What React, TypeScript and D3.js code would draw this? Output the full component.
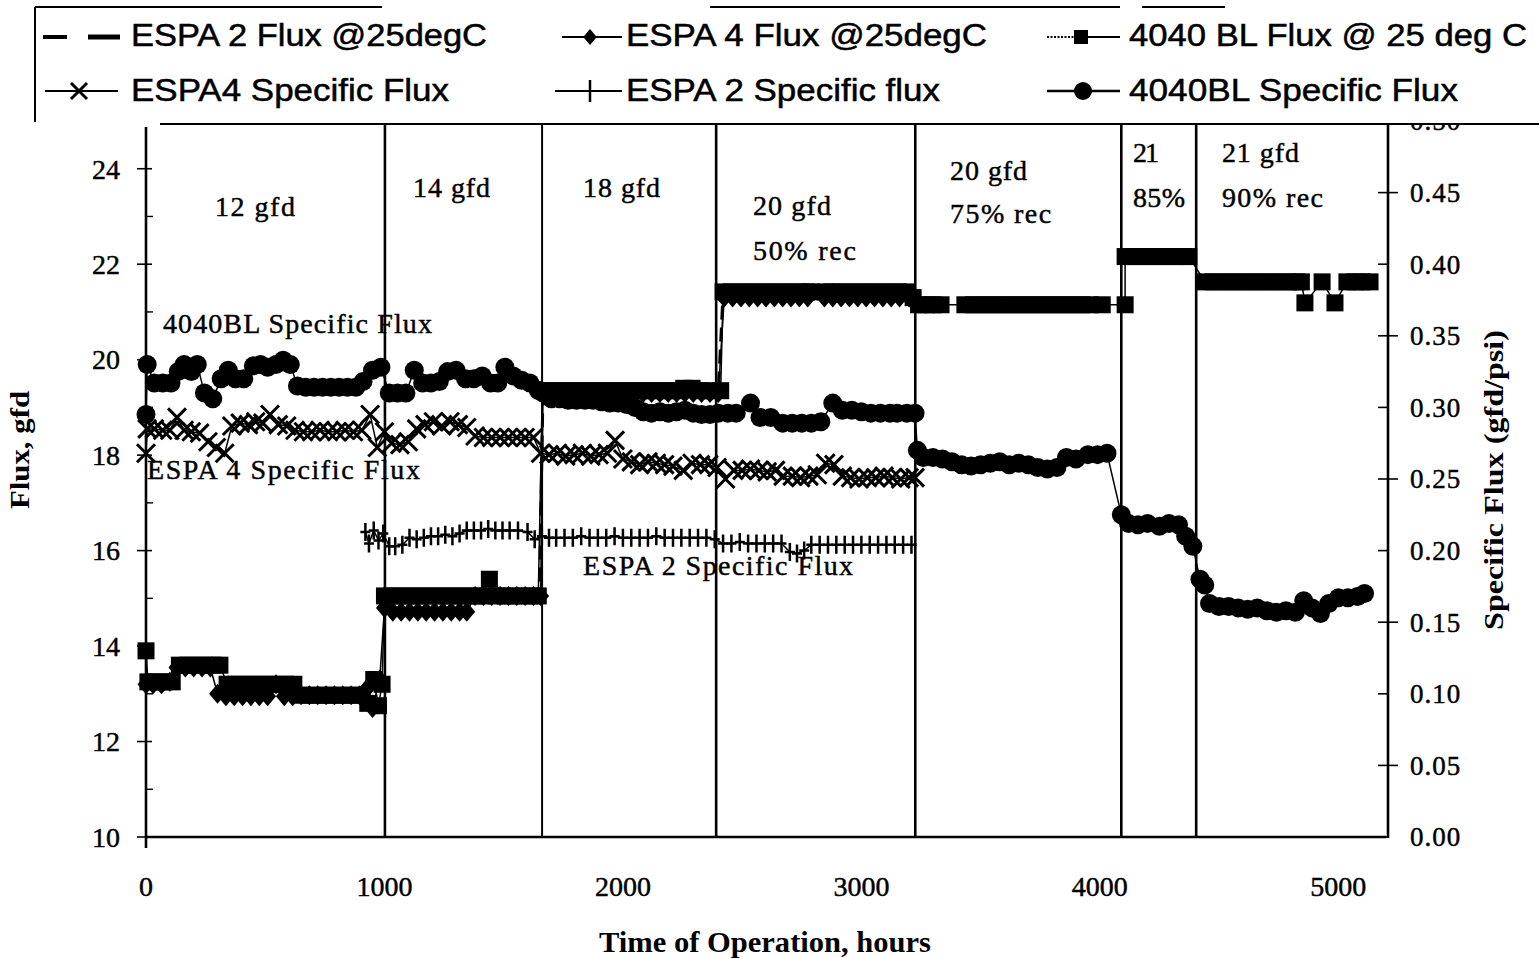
import React from "react";
import * as d3 from "d3";

type Pt = [number, number];

// ---------------- data ----------------
const timeTicks = [0, 1000, 2000, 3000, 4000, 5000];
const fluxTicks = [10, 12, 14, 16, 18, 20, 22, 24];
const fluxMinorTicks = [11, 13, 15, 17, 19, 21, 23];
const specTicks = [0, 0.05, 0.1, 0.15, 0.2, 0.25, 0.3, 0.35, 0.4, 0.45, 0.5];
const phaseBoundaries = [1002, 1661, 2391, 3226, 4090, 4404];

// 4040 BL Flux @ 25 deg C (gfd, left axis)
const bl4040Flux: Pt[] = [
  [0, 13.9], [8, 13.25], [40, 13.25], [75, 13.25], [110, 13.25], [140, 13.6], [175, 13.6], [210, 13.6], [245, 13.6],
  [280, 13.6], [310, 13.6], [340, 13.2], [375, 13.2], [410, 13.2], [445, 13.2], [480, 13.2], [515, 13.2], [550, 13.2],
  [585, 13.2], [620, 13.2], [655, 12.97], [690, 12.97], [725, 12.97], [760, 12.97], [795, 12.97], [830, 12.97],
  [865, 12.97], [900, 12.97], [930, 12.8], [955, 13.3], [975, 12.75], [990, 13.2], [1000, 15.05], [1030, 15.05],
  [1065, 15.05], [1100, 15.05], [1135, 15.05], [1170, 15.05], [1205, 15.05], [1240, 15.05], [1275, 15.05],
  [1310, 15.05], [1345, 15.05], [1380, 15.05], [1410, 15.05], [1440, 15.4], [1470, 15.05], [1505, 15.05],
  [1540, 15.05], [1575, 15.05], [1610, 15.05], [1645, 15.05], [1662, 19.35], [1695, 19.35], [1730, 19.35],
  [1765, 19.35], [1800, 19.35], [1835, 19.35], [1870, 19.35], [1905, 19.35], [1940, 19.35], [1975, 19.35],
  [2010, 19.35], [2045, 19.35], [2080, 19.35], [2115, 19.35], [2150, 19.35], [2185, 19.35], [2220, 19.35],
  [2255, 19.4], [2290, 19.4], [2325, 19.35], [2360, 19.35], [2410, 19.35], [2420, 21.42], [2455, 21.42],
  [2490, 21.42], [2525, 21.42], [2560, 21.42], [2595, 21.42], [2630, 21.42], [2665, 21.42], [2700, 21.42],
  [2735, 21.42], [2770, 21.42], [2790, 21.42], [2850, 21.42], [2875, 21.42], [2910, 21.42], [2945, 21.42],
  [2980, 21.42], [3015, 21.42], [3050, 21.42], [3085, 21.42], [3120, 21.42], [3155, 21.42], [3190, 21.42],
  [3217, 21.3], [3240, 21.15], [3270, 21.15], [3300, 21.15], [3334, 21.15], [3434, 21.15], [3470, 21.15],
  [3505, 21.15], [3540, 21.15], [3575, 21.15], [3610, 21.15], [3645, 21.15], [3680, 21.15], [3715, 21.15],
  [3750, 21.15], [3785, 21.15], [3820, 21.15], [3855, 21.15], [3890, 21.15], [3925, 21.15], [3960, 21.15],
  [4010, 21.15], [4106, 21.15], [4106, 22.16], [4140, 22.16], [4175, 22.16], [4210, 22.16], [4245, 22.16],
  [4280, 22.16], [4315, 22.16], [4350, 22.16], [4373, 22.16], [4441, 21.63], [4475, 21.63], [4510, 21.63],
  [4545, 21.63], [4580, 21.63], [4615, 21.63], [4650, 21.63], [4685, 21.63], [4720, 21.63], [4755, 21.63],
  [4790, 21.63], [4825, 21.63], [4845, 21.63], [4860, 21.19], [4932, 21.63], [4986, 21.19], [5036, 21.63],
  [5070, 21.63], [5100, 21.63], [5133, 21.63],
];

// ESPA 4 Flux @25degC (gfd, left axis)
const espa4Flux: Pt[] = [
  [0, 13.2], [30, 13.2], [65, 13.2], [100, 13.25], [130, 13.55], [165, 13.55], [200, 13.55], [235, 13.55],
  [270, 13.55], [300, 13.0], [335, 12.95], [370, 12.95], [405, 12.95], [440, 12.95], [475, 12.95], [510, 12.95],
  [545, 13.2], [580, 12.95], [615, 12.95], [650, 12.97], [685, 12.97], [720, 12.97], [755, 12.97], [790, 12.97],
  [825, 12.97], [860, 12.97], [895, 12.97], [925, 13.1], [950, 12.7], [980, 13.3], [1000, 14.8], [1035, 14.72],
  [1070, 14.72], [1105, 14.72], [1140, 14.72], [1175, 14.72], [1210, 14.72], [1245, 14.72], [1280, 14.72],
  [1315, 14.72], [1345, 14.72], [1380, 15.05], [1415, 15.05], [1450, 15.05], [1485, 15.05], [1520, 15.05],
  [1555, 15.05], [1590, 15.05], [1625, 15.05], [1655, 15.05], [1665, 19.3], [1700, 19.3], [1735, 19.3],
  [1770, 19.3], [1805, 19.3], [1840, 19.3], [1875, 19.3], [1910, 19.3], [1945, 19.3], [1980, 19.3],
  [2015, 19.3], [2050, 19.3], [2085, 19.3], [2120, 19.3], [2155, 19.3], [2190, 19.3], [2225, 19.3],
  [2260, 19.3], [2295, 19.3], [2330, 19.3], [2365, 19.3], [2400, 19.3], [2425, 21.3], [2460, 21.3],
  [2495, 21.3], [2530, 21.3], [2565, 21.3], [2600, 21.3], [2635, 21.3], [2670, 21.3], [2705, 21.3],
  [2740, 21.3], [2775, 21.3], [2845, 21.3], [2880, 21.3], [2915, 21.3], [2950, 21.3], [2985, 21.3],
  [3020, 21.3], [3055, 21.3], [3090, 21.3], [3125, 21.3], [3160, 21.3], [3200, 21.3],
];

// ESPA 2 Flux @25degC (gfd, left axis)
const espa2Flux: Pt[] = [
  [975, 15.0], [1050, 15.05], [1150, 15.05], [1250, 15.0], [1350, 15.05], [1450, 15.05], [1550, 15.0],
  [1650, 15.05], [1665, 19.4], [1800, 19.4], [1950, 19.35], [2100, 19.4], [2250, 19.35], [2400, 19.35],
  [2420, 21.4], [2600, 21.4], [2800, 21.4], [3000, 21.4], [3200, 21.4],
];

// 4040BL Specific Flux (gfd/psi, right axis)
const bl4040Spec: Pt[] = [
  [0, 0.295], [5, 0.33], [35, 0.317], [70, 0.317], [105, 0.317], [135, 0.325], [160, 0.33], [190, 0.325],
  [215, 0.33], [245, 0.31], [280, 0.306], [315, 0.32], [345, 0.326], [375, 0.32], [410, 0.32], [450, 0.329],
  [480, 0.33], [510, 0.328], [545, 0.33], [575, 0.333], [605, 0.33], [635, 0.315], [670, 0.314], [705, 0.314],
  [740, 0.314], [775, 0.314], [810, 0.314], [845, 0.314], [880, 0.314], [910, 0.318], [950, 0.326], [985, 0.328],
  [1020, 0.31], [1055, 0.31], [1090, 0.31], [1125, 0.326], [1160, 0.317], [1195, 0.317], [1230, 0.318],
  [1265, 0.325], [1300, 0.326], [1340, 0.32], [1375, 0.32], [1410, 0.322], [1445, 0.317], [1475, 0.317],
  [1505, 0.328], [1540, 0.322], [1575, 0.319], [1610, 0.317], [1645, 0.312], [1665, 0.31], [1700, 0.306],
  [1735, 0.306], [1770, 0.305], [1805, 0.305], [1840, 0.305], [1875, 0.305], [1910, 0.304], [1945, 0.303],
  [1980, 0.303], [2015, 0.302], [2050, 0.3], [2085, 0.297], [2120, 0.296], [2155, 0.297], [2190, 0.296],
  [2225, 0.297], [2260, 0.298], [2295, 0.296], [2330, 0.295], [2365, 0.295], [2400, 0.296], [2440, 0.296],
  [2475, 0.296], [2535, 0.303], [2575, 0.293], [2620, 0.293], [2670, 0.289], [2710, 0.289], [2750, 0.289],
  [2790, 0.289], [2830, 0.29], [2880, 0.303], [2920, 0.298], [2960, 0.298], [3000, 0.297], [3040, 0.296],
  [3080, 0.296], [3120, 0.296], [3150, 0.296], [3190, 0.296], [3225, 0.296], [3235, 0.27], [3260, 0.265],
  [3300, 0.265], [3340, 0.264], [3380, 0.262], [3420, 0.26], [3460, 0.259], [3500, 0.26], [3540, 0.261],
  [3580, 0.262], [3620, 0.26], [3660, 0.261], [3700, 0.26], [3740, 0.258], [3780, 0.257], [3820, 0.258],
  [3860, 0.265], [3900, 0.264], [3950, 0.267], [3990, 0.267], [4030, 0.268], [4090, 0.225], [4120, 0.219],
  [4160, 0.218], [4200, 0.219], [4250, 0.217], [4290, 0.219], [4330, 0.218], [4360, 0.21], [4390, 0.203],
  [4420, 0.18], [4440, 0.176], [4460, 0.163], [4500, 0.161], [4540, 0.161], [4580, 0.16], [4620, 0.159],
  [4660, 0.16], [4700, 0.158], [4740, 0.157], [4780, 0.158], [4820, 0.157], [4855, 0.165], [4890, 0.16],
  [4925, 0.156], [4960, 0.163], [5000, 0.167], [5040, 0.167], [5080, 0.168], [5110, 0.17],
];

// ESPA4 Specific Flux (gfd/psi, right axis)
const espa4Spec: Pt[] = [
  [0, 0.268], [5, 0.285], [35, 0.285], [70, 0.284], [100, 0.284], [130, 0.293], [160, 0.284], [190, 0.283],
  [225, 0.282], [260, 0.276], [295, 0.272], [330, 0.268], [360, 0.287], [395, 0.289], [430, 0.288], [460, 0.29],
  [490, 0.289], [520, 0.295], [555, 0.288], [590, 0.287], [625, 0.284], [660, 0.283], [695, 0.283], [730, 0.284],
  [765, 0.283], [800, 0.283], [835, 0.284], [870, 0.283], [905, 0.284], [940, 0.295], [970, 0.272], [1000, 0.283],
  [1030, 0.275], [1065, 0.274], [1100, 0.276], [1135, 0.285], [1170, 0.288], [1205, 0.29], [1240, 0.287],
  [1275, 0.29], [1310, 0.288], [1345, 0.286], [1380, 0.28], [1415, 0.279], [1450, 0.279], [1485, 0.279],
  [1520, 0.279], [1555, 0.279], [1590, 0.279], [1625, 0.279], [1655, 0.268], [1690, 0.267], [1725, 0.268],
  [1760, 0.266], [1795, 0.267], [1830, 0.268], [1865, 0.266], [1900, 0.267], [1935, 0.268], [1967, 0.277],
  [2000, 0.264], [2035, 0.262], [2070, 0.26], [2105, 0.262], [2140, 0.261], [2175, 0.26], [2210, 0.259],
  [2253, 0.256], [2290, 0.261], [2325, 0.26], [2360, 0.26], [2395, 0.258], [2430, 0.25], [2465, 0.256],
  [2500, 0.256], [2535, 0.257], [2570, 0.256], [2605, 0.255], [2640, 0.256], [2672, 0.252], [2710, 0.252],
  [2745, 0.251], [2780, 0.252], [2815, 0.253], [2850, 0.261], [2885, 0.26], [2920, 0.252], [2955, 0.251],
  [2990, 0.25], [3025, 0.251], [3060, 0.251], [3095, 0.252], [3130, 0.251], [3165, 0.25], [3200, 0.251],
  [3225, 0.251],
];

// ESPA 2 Specific flux (gfd/psi, right axis)
const espa2Spec: Pt[] = [
  [920, 0.213], [935, 0.205], [955, 0.214], [975, 0.207], [995, 0.212], [1020, 0.203], [1045, 0.203],
  [1075, 0.204], [1105, 0.209], [1135, 0.208], [1165, 0.209], [1195, 0.21], [1225, 0.21], [1255, 0.211],
  [1285, 0.21], [1315, 0.212], [1345, 0.214], [1375, 0.214], [1405, 0.214], [1435, 0.215], [1465, 0.214],
  [1495, 0.214], [1525, 0.214], [1560, 0.214], [1600, 0.213], [1630, 0.208], [1660, 0.21], [1690, 0.209],
  [1720, 0.209], [1755, 0.209], [1790, 0.209], [1825, 0.21], [1860, 0.209], [1895, 0.209], [1930, 0.209],
  [1965, 0.21], [2000, 0.209], [2035, 0.209], [2070, 0.209], [2105, 0.209], [2140, 0.21], [2175, 0.209],
  [2210, 0.209], [2245, 0.209], [2280, 0.209], [2315, 0.209], [2350, 0.209], [2385, 0.208], [2420, 0.205],
  [2455, 0.205], [2490, 0.206], [2525, 0.205], [2560, 0.205], [2595, 0.205], [2630, 0.205], [2665, 0.205],
  [2700, 0.199], [2730, 0.198], [2760, 0.2], [2790, 0.204], [2825, 0.204], [2860, 0.204], [2895, 0.204],
  [2930, 0.204], [2965, 0.204], [3000, 0.204], [3035, 0.204], [3070, 0.204], [3105, 0.204], [3140, 0.204],
  [3175, 0.204], [3210, 0.204],
];

const phaseLabelText = ["12 gfd", "14 gfd", "18 gfd", "20 gfd", "50% rec", "20 gfd", "75% rec", "21", "85%", "21 gfd", "90% rec"];
const seriesLabelText = ["4040BL Specific Flux", "ESPA 4 Specific Flux", "ESPA 2 Specific Flux"];
const legendText = [
  "ESPA 2 Flux @25degC", "ESPA 4 Flux @25degC", "4040 BL Flux @ 25 deg C",
  "ESPA4 Specific Flux", "ESPA 2 Specific flux", "4040BL Specific Flux",
];

// ---------------- layout (positions in data units: hours / gfd) ----------------
const phaseLabelPos = [
  { t: 289, f: 23.0, w: 80 }, { t: 1120, f: 23.41, w: 77 }, { t: 1833, f: 23.41, w: 77 },
  { t: 2545, f: 23.03, w: 78 }, { t: 2545, f: 22.09, w: 103 }, { t: 3372, f: 23.76, w: 77 },
  { t: 3372, f: 22.86, w: 101 }, { t: 4139, f: 24.14, w: 26 }, { t: 4139, f: 23.2, w: 52 },
  { t: 4512, f: 24.14, w: 77 }, { t: 4512, f: 23.2, w: 101 },
];
const seriesLabelPos = [
  { t: 71, f: 20.56, w: 269 }, { t: 4, f: 17.5, w: 273 }, { t: 1833, f: 15.49, w: 270 },
];

const SERIF = "'Liberation Serif', 'Times New Roman', serif";
const SANS = "'Liberation Sans', Arial, sans-serif";

const Square = ({ cx, cy, s = 17 }: { cx: number; cy: number; s?: number }) => (
  <rect x={cx - s / 2} y={cy - s / 2} width={s} height={s} fill="#000" />
);
const Circle = ({ cx, cy, r = 9 }: { cx: number; cy: number; r?: number }) => <circle cx={cx} cy={cy} r={r} fill="#000" />;
const Diamond = ({ cx, cy, s = 8 }: { cx: number; cy: number; s?: number }) => (
  <path d={`M${cx},${cy - s}L${cx + s * 0.85},${cy}L${cx},${cy + s}L${cx - s * 0.85},${cy}Z`} fill="#000" />
);
const Cross = ({ cx, cy, s = 9 }: { cx: number; cy: number; s?: number }) => (
  <path d={`M${cx - s},${cy - s}L${cx + s},${cy + s}M${cx - s},${cy + s}L${cx + s},${cy - s}`} stroke="#000" strokeWidth={3} />
);
const Plus = ({ cx, cy, h = 9, w = 5 }: { cx: number; cy: number; h?: number; w?: number }) => (
  <path d={`M${cx},${cy - h}V${cy + h}M${cx - w},${cy}H${cx + w}`} stroke="#000" strokeWidth={2.5} />
);

export default function App() {
  const W = 1539;
  const H = 958;
  const x = d3.scaleLinear().domain([0, 5200]).range([146, 1386]);
  const yL = d3.scaleLinear().domain([10, 25]).range([837, 121]);
  const yR = d3.scaleLinear().domain([0, 0.5]).range([837, 121]);

  const lineL = d3.line<Pt>().x((d) => x(d[0])).y((d) => yL(d[1]));
  const lineR = d3.line<Pt>().x((d) => x(d[0])).y((d) => yR(d[1]));

  const plotTop = 124;
  const plotBottom = yL(10);
  const leftX = x(0);
  const rightX = x(5200);
  const textInk = { stroke: "#000", strokeWidth: 0.45 };

  return (
    <svg
      width={W}
      height={H}
      viewBox={`0 0 ${W} ${H}`}
      style={{ position: "absolute", left: 0, top: 0, background: "#fff", display: "block" }}
    >
      <rect x={0} y={0} width={W} height={H} fill="#fff" />

      {/* phase boundaries */}
      {phaseBoundaries.map((t, i) => (
        <line key={"pb" + i} x1={x(t)} x2={x(t)} y1={plotTop} y2={plotBottom} stroke="#000" strokeWidth={i === 1 ? 2 : 2.6} />
      ))}

      {/* series lines */}
      <path d={lineL(espa2Flux) || ""} fill="none" stroke="#000" strokeWidth={3} strokeDasharray="14,8" />
      <path d={lineL(espa4Flux) || ""} fill="none" stroke="#000" strokeWidth={1.5} />
      <path d={lineL(bl4040Flux) || ""} fill="none" stroke="#000" strokeWidth={1.5} />
      <path d={lineR(bl4040Spec) || ""} fill="none" stroke="#000" strokeWidth={1.5} />
      <path d={lineR(espa4Spec) || ""} fill="none" stroke="#000" strokeWidth={1.5} />
      <path d={lineR(espa2Spec) || ""} fill="none" stroke="#000" strokeWidth={1.5} />

      {/* markers */}
      {bl4040Flux.map((d, i) => <Square key={"bf" + i} cx={x(d[0])} cy={yL(d[1])} />)}
      {espa4Flux.map((d, i) => <Diamond key={"ef" + i} cx={x(d[0])} cy={yL(d[1])} s={10} />)}
      {bl4040Spec.map((d, i) => <Circle key={"bs" + i} cx={x(d[0])} cy={yR(d[1])} r={9.5} />)}
      {espa4Spec.map((d, i) => <Cross key={"es" + i} cx={x(d[0])} cy={yR(d[1])} />)}
      {espa2Spec.map((d, i) => <Plus key={"ps" + i} cx={x(d[0])} cy={yR(d[1])} />)}

      {/* axes */}
      <line x1={leftX} x2={leftX} y1={plotTop + 3} y2={plotBottom + 11} stroke="#000" strokeWidth={2.6} />
      <line x1={leftX} x2={rightX} y1={plotBottom} y2={plotBottom} stroke="#000" strokeWidth={2.6} />
      <line x1={rightX + 2} x2={rightX + 2} y1={plotTop - 3} y2={plotBottom + 1} stroke="#000" strokeWidth={2.6} />

      {fluxTicks.map((v) => (
        <g key={"lt" + v}>
          <line x1={leftX - 9} x2={leftX + 6} y1={yL(v)} y2={yL(v)} stroke="#000" strokeWidth={1.6} />
          <text x={120} y={yL(v)} dy="0.35em" textAnchor="end" fontFamily={SERIF} fontSize={28} {...textInk}>
            {v}
          </text>
        </g>
      ))}
      {fluxMinorTicks.map((v) => (
        <line key={"lm" + v} x1={leftX} x2={leftX + 7} y1={yL(v)} y2={yL(v)} stroke="#000" strokeWidth={1.4} />
      ))}

      {specTicks.map((v, i) => (
        <g key={"rt" + i}>
          <line
            x1={rightX - 8}
            x2={i % 2 === 1 ? rightX + 12 : rightX + 2}
            y1={yR(v)}
            y2={yR(v)}
            stroke="#000"
            strokeWidth={1.6}
          />
          <text x={1410} y={yR(v)} dy="0.35em" fontFamily={SERIF} fontSize={27} letterSpacing={1} {...textInk}>
            {d3.format(".2f")(v)}
          </text>
        </g>
      ))}

      {timeTicks.map((t) => (
        <text key={"xt" + t} x={x(t)} y={896} textAnchor="middle" fontFamily={SERIF} fontSize={28} {...textInk}>
          {t}
        </text>
      ))}

      {/* axis titles */}
      <text
        x={765}
        y={952}
        textAnchor="middle"
        fontFamily={SERIF}
        fontSize={29}
        fontWeight="bold"
        textLength={332}
        lengthAdjust="spacingAndGlyphs"
      >
        Time of Operation, hours
      </text>
      <text
        transform={`translate(29,450) rotate(-90)`}
        textAnchor="middle"
        fontFamily={SERIF}
        fontSize={28}
        fontWeight="bold"
        textLength={118}
        lengthAdjust="spacingAndGlyphs"
      >
        Flux, gfd
      </text>
      <text
        transform={`translate(1503,480) rotate(-90)`}
        textAnchor="middle"
        fontFamily={SERIF}
        fontSize={28}
        fontWeight="bold"
        textLength={300}
        lengthAdjust="spacingAndGlyphs"
      >
        Specific Flux (gfd/psi)
      </text>

      {/* phase labels */}
      {phaseLabelText.map((s, i) => (
        <text
          key={"pl" + i}
          x={x(phaseLabelPos[i].t)}
          y={yL(phaseLabelPos[i].f)}
          fontFamily={SERIF}
          fontSize={28}
          textLength={phaseLabelPos[i].w}
          lengthAdjust="spacing"
          {...textInk}
        >
          {s}
        </text>
      ))}
      {seriesLabelText.map((s, i) => (
        <text
          key={"sl" + i}
          x={x(seriesLabelPos[i].t)}
          y={yL(seriesLabelPos[i].f)}
          fontFamily={SERIF}
          fontSize={28}
          textLength={seriesLabelPos[i].w}
          lengthAdjust="spacing"
          {...textInk}
        >
          {s}
        </text>
      ))}

      {/* legend box */}
      <rect x={0} y={0} width={W} height={plotTop} fill="#fff" />
      <line x1={35} x2={35} y1={7} y2={plotTop - 2} stroke="#000" strokeWidth={2} />
      <line x1={35} x2={382} y1={7} y2={7} stroke="#000" strokeWidth={2} />
      <line x1={710} x2={1120} y1={7} y2={7} stroke="#000" strokeWidth={2} />
      <line x1={1142} x2={1225} y1={7} y2={7} stroke="#000" strokeWidth={2} />
      <line x1={160} x2={W} y1={plotTop} y2={plotTop} stroke="#000" strokeWidth={2} />

      {/* legend row 1 */}
      <line x1={43} x2={67} y1={37} y2={37} stroke="#000" strokeWidth={4} />
      <line x1={88} x2={120} y1={37} y2={37} stroke="#000" strokeWidth={5} />
      <line x1={562} x2={622} y1={37} y2={37} stroke="#000" strokeWidth={2} />
      <Diamond cx={590} cy={37} s={8} />
      <line x1={1047} x2={1075} y1={37} y2={37} stroke="#000" strokeWidth={2} strokeDasharray="2,1.5" />
      <line x1={1085} x2={1120} y1={37} y2={37} stroke="#000" strokeWidth={2} />
      <Square cx={1081} cy={37} s={14} />
      {/* legend row 2 */}
      <line x1={45} x2={118} y1={91} y2={91} stroke="#000" strokeWidth={2} />
      <Cross cx={79} cy={91} s={8} />
      <line x1={555} x2={622} y1={91} y2={91} stroke="#000" strokeWidth={2} />
      <Plus cx={590} cy={91} h={11} w={0} />
      <line x1={1047} x2={1120} y1={91} y2={91} stroke="#000" strokeWidth={2.5} />
      <Circle cx={1083} cy={91} r={9} />

      {[
        { x: 131, y: 46, w: 356 },
        { x: 626, y: 46, w: 361 },
        { x: 1129, y: 46, w: 398 },
        { x: 131, y: 101, w: 318 },
        { x: 626, y: 101, w: 314 },
        { x: 1129, y: 101, w: 329 },
      ].map((p, i) => (
        <text
          key={"lg" + i}
          x={p.x}
          y={p.y}
          fontFamily={SANS}
          fontSize={31}
          textLength={p.w}
          lengthAdjust="spacingAndGlyphs"
          stroke="#000"
          strokeWidth={0.5}
        >
          {legendText[i]}
        </text>
      ))}
    </svg>
  );
}
